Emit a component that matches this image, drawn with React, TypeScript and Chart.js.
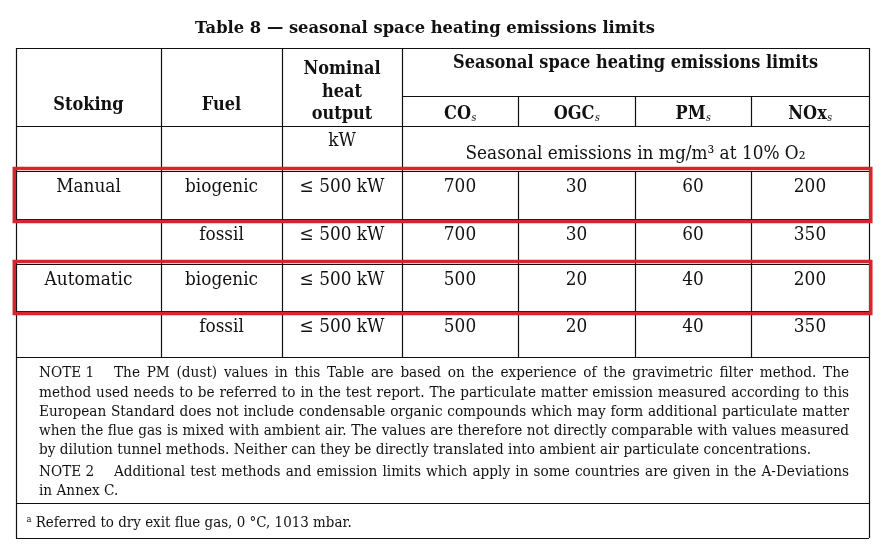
import React, { useEffect, useRef } from "react";
import { Chart, registerables } from "chart.js";

Chart.register(...registerables);

// ---------- data ----------
const tableTitle = "Table 8 — seasonal space heating emissions limits";
const groupHeader = "Seasonal space heating emissions limits";
const unitsRow = "Seasonal emissions in mg/m³ at 10% O₂";
const stokingHeader = "Stoking";
const fuelHeader = "Fuel";
const outputHeader = ["Nominal", "heat", "output"];
const outputUnit = "kW";
const pollutants = ["CO", "OGC", "PM", "NOx"];
const pollutantSuffix = "s";

const stoking = ["Manual", "", "Automatic", ""];
const fuels = ["biogenic", "fossil", "biogenic", "fossil"];
const nominalOutput = ["≤ 500 kW", "≤ 500 kW", "≤ 500 kW", "≤ 500 kW"];
const coValues = [700, 700, 500, 500];
const ogcValues = [30, 30, 20, 20];
const pmValues = [60, 60, 40, 40];
const noxValues = [200, 350, 200, 350];
const highlightedRows = [0, 2];

const note1Label = "NOTE 1";
const note1Lines = [
  "The PM (dust) values in this Table are based on the experience of the gravimetric filter method. The",
  "method used needs to be referred to in the test report. The particulate matter emission measured according to this",
  "European Standard does not include condensable organic compounds which may form additional particulate matter",
  "when the flue gas is mixed with ambient air. The values are therefore not directly comparable with values measured",
  "by dilution tunnel methods. Neither can they be directly translated into ambient air particulate concentrations.",
];
const note2Label = "NOTE 2";
const note2Lines = [
  "Additional test methods and emission limits which apply in some countries are given in the A-Deviations",
  "in Annex C.",
];
const footnoteMark = "a";
const footnoteText = "Referred to dry exit flue gas, 0 °C, 1013 mbar.";

// ---------- layout (pixel domain of the hidden scales) ----------
const W = 886;
const H = 554;
const colEdges = [16, 161, 282, 402, 518, 635, 751, 869];
const yTop = 48;
const yGroupLine = 96;
const yHeadLine = 126;
const rowEdges = [171, 219, 264, 311, 357];
const yNotesEnd = 503;
const yFootEnd = 538;

const FONT = '"DejaVu Serif", "Liberation Serif", serif';
const INK = "#111111";
const RED = "#d6262d";
const CAP = 0.729; // DejaVu Serif cap-height ratio

type Style = { font: string; hs: number };

function makeStyle(ctx: CanvasRenderingContext2D, weight: string, capPx: number, sample: string, target: number): Style {
  const size = capPx / CAP;
  const font = `${weight} ${size.toFixed(2)}px ${FONT}`;
  ctx.font = font;
  const w = ctx.measureText(sample).width;
  return { font, hs: target / w };
}

function measure(ctx: CanvasRenderingContext2D, st: Style, text: string) {
  ctx.font = st.font;
  return ctx.measureText(text).width * st.hs;
}

function draw(ctx: CanvasRenderingContext2D, st: Style, text: string, x: number, y: number, align: CanvasTextAlign = "center") {
  ctx.save();
  ctx.font = st.font;
  ctx.textAlign = align;
  ctx.textBaseline = "alphabetic";
  ctx.translate(x, y);
  ctx.scale(st.hs, 1);
  ctx.fillText(text, 0, 0);
  ctx.restore();
}

const tablePlugin = {
  id: "tablePlugin",
  afterDraw(chart: any) {
    const ctx: CanvasRenderingContext2D = chart.ctx;
    const xs = chart.scales.x;
    const ys = chart.scales.y;
    const px = (v: number) => xs.getPixelForValue(v);
    const py = (v: number) => ys.getPixelForValue(v);

    const titleSt = makeStyle(ctx, "bold", 12.8, tableTitle, 460);
    const headSt = makeStyle(ctx, "bold", 13.6, groupHeader, 365);
    const bodySt = makeStyle(ctx, "normal", 13.8, unitsRow, 340);
    const noteSt = makeStyle(ctx, "normal", 10.6, note1Lines[4], 772);
    const footSt = makeStyle(ctx, "normal", 10.6, footnoteText, 316);

    ctx.save();
    ctx.fillStyle = "#ffffff";
    ctx.fillRect(0, 0, chart.width, chart.height);

    // ----- grid lines -----
    ctx.strokeStyle = INK;
    ctx.lineWidth = 1.2;
    const hline = (x0: number, x1: number, y: number) => {
      ctx.beginPath();
      ctx.moveTo(px(x0), Math.round(py(y)) + 0.5);
      ctx.lineTo(px(x1), Math.round(py(y)) + 0.5);
      ctx.stroke();
    };
    const vline = (x: number, y0: number, y1: number) => {
      ctx.beginPath();
      ctx.moveTo(Math.round(px(x)) + 0.5, py(y0));
      ctx.lineTo(Math.round(px(x)) + 0.5, py(y1));
      ctx.stroke();
    };
    const L = colEdges[0];
    const R = colEdges[colEdges.length - 1];
    const bodyBottom = rowEdges[rowEdges.length - 1];
    hline(L, R, yTop);
    hline(colEdges[3], R, yGroupLine);
    hline(L, R, yHeadLine);
    rowEdges.forEach((y) => hline(L, R, y));
    hline(L, R, yNotesEnd);
    hline(L, R, yFootEnd);
    vline(L, yTop, yFootEnd);
    vline(R, yTop, yFootEnd);
    vline(colEdges[1], yTop, bodyBottom);
    vline(colEdges[2], yTop, bodyBottom);
    vline(colEdges[3], yTop, bodyBottom);
    for (let c = 4; c < 7; c++) {
      vline(colEdges[c], yGroupLine, yHeadLine);
      vline(colEdges[c], rowEdges[0], bodyBottom);
    }

    const colCenter = (c: number) => px((colEdges[c] + colEdges[c + 1]) / 2);
    ctx.fillStyle = INK;

    // ----- title -----
    draw(ctx, titleSt, tableTitle, px(425), py(32.7));

    // ----- header -----
    draw(ctx, headSt, stokingHeader, colCenter(0), py(110));
    draw(ctx, headSt, fuelHeader, colCenter(1), py(110));
    const outBase = [74, 96.5, 119];
    outputHeader.forEach((t, i) => draw(ctx, headSt, t, colCenter(2), py(outBase[i])));
    draw(ctx, headSt, groupHeader, px((colEdges[3] + R) / 2), py(68.3));

    const subSt: Style = { font: `italic ${(headSt.hs > 0 ? 11 : 11)}px ${FONT}`, hs: headSt.hs };
    pollutants.forEach((p, i) => {
      const w1 = measure(ctx, headSt, p);
      const w2 = measure(ctx, subSt, pollutantSuffix);
      const start = colCenter(3 + i) - (w1 + w2) / 2;
      draw(ctx, headSt, p, start, py(119), "left");
      draw(ctx, subSt, pollutantSuffix, start + w1 + 0.5, py(121), "left");
    });

    draw(ctx, bodySt, outputUnit, colCenter(2), py(145.7));
    draw(ctx, bodySt, unitsRow, px((colEdges[3] + R) / 2), py(158.5));

    // ----- body rows -----
    const valueCols = [coValues, ogcValues, pmValues, noxValues];
    for (let r = 0; r < fuels.length; r++) {
      const base = py(rowEdges[r] + 20.8);
      draw(ctx, bodySt, stoking[r], colCenter(0), base);
      draw(ctx, bodySt, fuels[r], colCenter(1), base);
      draw(ctx, bodySt, nominalOutput[r], colCenter(2), base);
      valueCols.forEach((vals, i) => draw(ctx, bodySt, String(vals[r]), colCenter(3 + i), base));
    }

    // ----- notes -----
    const noteL = 39;
    const noteText = 114;
    const noteR = 849;
    const justify = (line: string, x0: number, x1: number, y: number) => {
      const words = line.split(" ");
      const widths = words.map((w) => measure(ctx, noteSt, w));
      const total = widths.reduce((a, b) => a + b, 0);
      const gap = (px(x1) - px(x0) - total) / (words.length - 1);
      let x = px(x0);
      words.forEach((w, i) => {
        draw(ctx, noteSt, w, x, py(y), "left");
        x += widths[i] + gap;
      });
    };
    const noteBase = [377.3, 396.5, 415.5, 434.5, 453.5];
    draw(ctx, noteSt, note1Label, px(noteL), py(noteBase[0]), "left");
    note1Lines.forEach((line, i) => {
      if (i === 0) justify(line, noteText, noteR, noteBase[i]);
      else if (i < note1Lines.length - 1) justify(line, noteL, noteR, noteBase[i]);
      else draw(ctx, noteSt, line, px(noteL), py(noteBase[i]), "left");
    });
    const note2Base = [476, 495];
    draw(ctx, noteSt, note2Label, px(noteL), py(note2Base[0]), "left");
    justify(note2Lines[0], noteText, noteR, note2Base[0]);
    draw(ctx, noteSt, note2Lines[1], px(noteL), py(note2Base[1]), "left");

    // ----- footnote -----
    const markSt: Style = { font: `normal 9px ${FONT}`, hs: footSt.hs };
    draw(ctx, markSt, footnoteMark, px(26.5), py(522), "left");
    draw(ctx, footSt, footnoteText, px(35.7), py(526.5), "left");

    // ----- highlight boxes -----
    ctx.strokeStyle = RED;
    ctx.lineWidth = 3.5;
    highlightedRows.forEach((r) => {
      const top = py(rowEdges[r] - 2.5);
      const bot = py(rowEdges[r + 1] + 2.5);
      ctx.strokeRect(px(14.3), top, px(870.8) - px(14.3), bot - top);
    });

    ctx.restore();
  },
};

export default function App() {
  const ref = useRef<HTMLCanvasElement | null>(null);
  useEffect(() => {
    if (!ref.current) return;
    const chart = new Chart(ref.current, {
      type: "scatter",
      data: { datasets: [{ data: [], pointRadius: 0 }] },
      options: {
        animation: false,
        responsive: false,
        layout: { padding: 0 },
        plugins: { legend: { display: false }, tooltip: { enabled: false } },
        scales: {
          x: { type: "linear", min: 0, max: W, display: false },
          y: { type: "linear", min: 0, max: H, reverse: true, display: false },
        },
      },
      plugins: [tablePlugin],
    });
    return () => chart.destroy();
  }, []);
  return (
    <div style={{ position: "absolute", left: 0, top: 0, width: W, height: H, background: "#fff" }}>
      <canvas ref={ref} width={W} height={H} style={{ display: "block", width: W, height: H }} />
    </div>
  );
}
